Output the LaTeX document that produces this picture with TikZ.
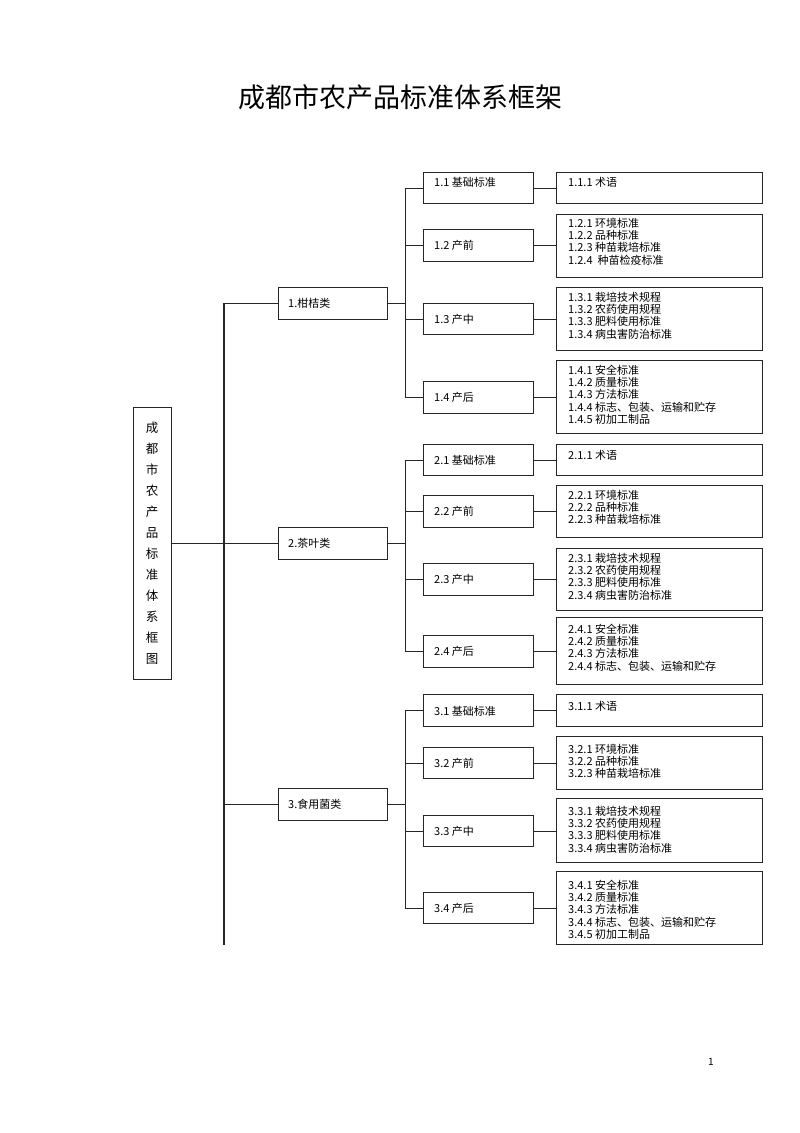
\documentclass[tikz,border=0pt]{standalone}
\usepackage{fontspec}
\setmainfont{Noto Sans CJK SC}
\begin{document}
\begin{tikzpicture}[x=1pt,y=-1pt,
  ln/.style={line width=0.9pt, draw=black!85},
  box/.style={ln, inner sep=0pt, anchor=north west},
  lonebox/.style={box, minimum width=109pt, minimum height=32pt},
  ltwobox/.style={box, minimum width=110pt},
  lthreebox/.style={box, minimum width=206pt},
  midtext/.style={anchor=west, inner sep=0pt, font=\fontsize{11pt}{12pt}\selectfont},
  toptext/.style={anchor=north west, inner sep=0pt, align=left, font=\fontsize{11pt}{12.2pt}\selectfont}
]
\useasboundingbox[fill=white] (0,0) rectangle (800,1133);

% title
\node[font=\fontsize{27pt}{30pt}\selectfont] (title) at (400,97) {成都市农产品标准体系框架};

% root
\node[ln, minimum width=38pt, minimum height=272pt, inner sep=0pt, align=center,
      font=\fontsize{12.5pt}{21pt}\selectfont] (root) at (152,543)
  {成\\都\\市\\农\\产\\品\\标\\准\\体\\系\\框\\图};

% level 1
\node[lonebox] (c1) at (278,287) {};
\node[midtext] (c1t) at ([xshift=10pt]c1.west) {1.柑桔类};
\node[lonebox] (c2) at (278,527) {};
\node[midtext] (c2t) at ([xshift=10pt]c2.west) {2.茶叶类};
\node[lonebox] (c3) at (278,788) {};
\node[midtext] (c3t) at ([xshift=10pt]c3.west) {3.食用菌类};

% level 2
\node[ltwobox, minimum height=31pt] (n11) at (423,172) {};
\node[midtext] (n11t) at ([xshift=11pt,yshift=6pt]n11.west) {1.1 基础标准};
\node[ltwobox, minimum height=32pt] (n12) at (423,229) {};
\node[midtext] (n12t) at ([xshift=11pt]n12.west) {1.2 产前};
\node[ltwobox, minimum height=31pt] (n13) at (423,303) {};
\node[midtext] (n13t) at ([xshift=11pt]n13.west) {1.3 产中};
\node[ltwobox, minimum height=32pt] (n14) at (423,381) {};
\node[midtext] (n14t) at ([xshift=11pt]n14.west) {1.4 产后};

\node[ltwobox, minimum height=31pt] (n21) at (423,444) {};
\node[midtext] (n21t) at ([xshift=11pt]n21.west) {2.1 基础标准};
\node[ltwobox, minimum height=32pt] (n22) at (423,495) {};
\node[midtext] (n22t) at ([xshift=11pt]n22.west) {2.2 产前};
\node[ltwobox, minimum height=32pt] (n23) at (423,563) {};
\node[midtext] (n23t) at ([xshift=11pt]n23.west) {2.3 产中};
\node[ltwobox, minimum height=32pt] (n24) at (423,635) {};
\node[midtext] (n24t) at ([xshift=11pt]n24.west) {2.4 产后};

\node[ltwobox, minimum height=32pt] (n31) at (423,694) {};
\node[midtext] (n31t) at ([xshift=11pt,yshift=-1pt]n31.west) {3.1 基础标准};
\node[ltwobox, minimum height=31pt] (n32) at (423,747) {};
\node[midtext] (n32t) at ([xshift=11pt]n32.west) {3.2 产前};
\node[ltwobox, minimum height=31pt] (n33) at (423,815) {};
\node[midtext] (n33t) at ([xshift=11pt]n33.west) {3.3 产中};
\node[ltwobox, minimum height=31pt] (n34) at (423,892) {};
\node[midtext] (n34t) at ([xshift=11pt]n34.west) {3.4 产后};

% level 3
\node[lthreebox, minimum height=31pt] (t11) at (556,172) {};
\node[toptext] (t11t) at ([xshift=12pt,yshift=-5pt]t11.north west) {1.1.1 术语};
\node[lthreebox, minimum height=63pt] (t12) at (556,214) {};
\node[toptext] (t12t) at ([xshift=12pt,yshift=-4pt]t12.north west) {1.2.1 环境标准\\1.2.2 品种标准\\1.2.3 种苗栽培标准\\1.2.4 \ 种苗检疫标准};
\node[lthreebox, minimum height=63pt] (t13) at (556,287) {};
\node[toptext] (t13t) at ([xshift=12pt,yshift=-5pt]t13.north west) {1.3.1 栽培技术规程\\1.3.2 农药使用规程\\1.3.3 肥料使用标准\\1.3.4 病虫害防治标准};
\node[lthreebox, minimum height=73pt] (t14) at (556,360) {};
\node[toptext] (t14t) at ([xshift=12pt,yshift=-5pt]t14.north west) {1.4.1 安全标准\\1.4.2 质量标准\\1.4.3 方法标准\\1.4.4 标志、包装、运输和贮存\\1.4.5 初加工制品};

\node[lthreebox, minimum height=31pt] (t21) at (556,444) {};
\node[toptext] (t21t) at ([xshift=12pt,yshift=-6pt]t21.north west) {2.1.1 术语};
\node[lthreebox, minimum height=52pt] (t22) at (556,485) {};
\node[toptext] (t22t) at ([xshift=12pt,yshift=-5pt]t22.north west) {2.2.1 环境标准\\2.2.2 品种标准\\2.2.3 种苗栽培标准};
\node[lthreebox, minimum height=62pt] (t23) at (556,548) {};
\node[toptext] (t23t) at ([xshift=12pt,yshift=-5pt]t23.north west) {2.3.1 栽培技术规程\\2.3.2 农药使用规程\\2.3.3 肥料使用标准\\2.3.4 病虫害防治标准};
\node[lthreebox, minimum height=67pt] (t24) at (556,617) {};
\node[toptext] (t24t) at ([xshift=12pt,yshift=-7pt]t24.north west) {2.4.1 安全标准\\2.4.2 质量标准\\2.4.3 方法标准\\2.4.4 标志、包装、运输和贮存};

\node[lthreebox, minimum height=32pt] (t31) at (556,694) {};
\node[toptext] (t31t) at ([xshift=12pt,yshift=-7pt]t31.north west) {3.1.1 术语};
\node[lthreebox, minimum height=53pt] (t32) at (556,736) {};
\node[toptext] (t32t) at ([xshift=12pt,yshift=-8pt]t32.north west) {3.2.1 环境标准\\3.2.2 品种标准\\3.2.3 种苗栽培标准};
\node[lthreebox, minimum height=64pt] (t33) at (556,798) {};
\node[toptext] (t33t) at ([xshift=12pt,yshift=-8pt]t33.north west) {3.3.1 栽培技术规程\\3.3.2 农药使用规程\\3.3.3 肥料使用标准\\3.3.4 病虫害防治标准};
\node[lthreebox, minimum height=73pt] (t34) at (556,871) {};
\node[toptext] (t34t) at ([xshift=12pt,yshift=-9pt]t34.north west) {3.4.1 安全标准\\3.4.2 质量标准\\3.4.3 方法标准\\3.4.4 标志、包装、运输和贮存\\3.4.5 初加工制品};

% page number
\node[font=\fontsize{10pt}{11pt}\selectfont] (pg) at (711,1062) {1};

% trunk
\coordinate (trunkbot) at (224,945);
\draw[ln, line width=1.3pt] (c1.west -| trunkbot) -- (trunkbot);
\draw[ln] (root.east) -- (root.east -| trunkbot);
\foreach \c in {c1,c2,c3} \draw[ln] (\c.west) -- (\c.west -| trunkbot);

% buses
\coordinate (bus1) at ([xshift=-18pt]n11.west);
\coordinate (bus2) at ([xshift=-18pt]n21.west);
\coordinate (bus3) at ([xshift=-18pt]n31.west);
\draw[ln] (bus1) -- (bus1 |- n14.west);
\draw[ln] (bus2) -- (bus2 |- n24.west);
\draw[ln] (bus3) -- (bus3 |- n34.west);
\draw[ln] (c1.east) -- (c1.east -| bus1);
\draw[ln] (c2.east) -- (c2.east -| bus2);
\draw[ln] (c3.east) -- (c3.east -| bus3);
\foreach \g in {1,2,3} {
  \foreach \k in {1,2,3,4} {
    \draw[ln] (n\g\k.west) -- (n\g\k.west -| bus\g);
    \draw[ln] (n\g\k.east) -- (n\g\k.east -| t\g\k.west);
  }
}
\end{tikzpicture}
\end{document}
